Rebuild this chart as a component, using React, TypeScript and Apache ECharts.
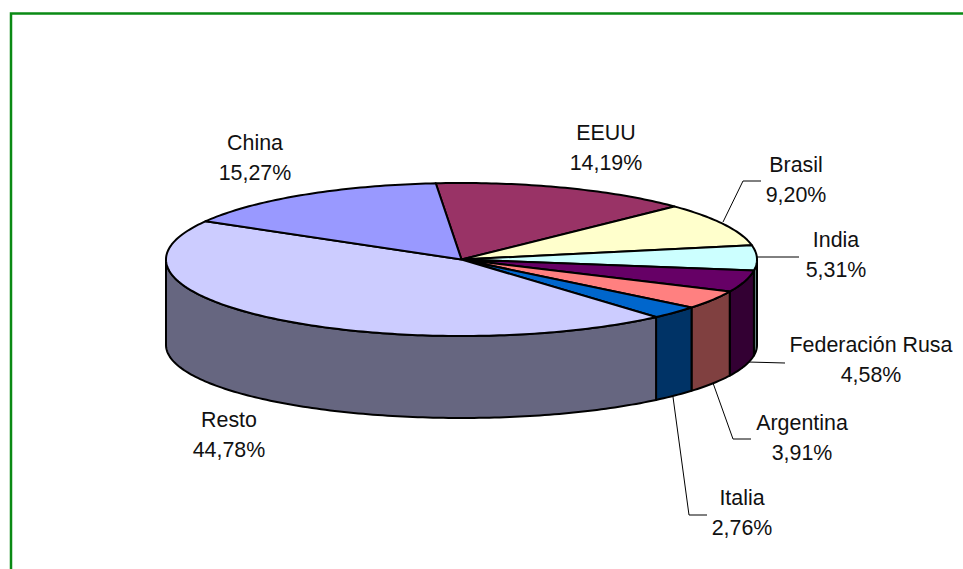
import React, { useEffect, useRef } from "react";
import * as echarts from "echarts";

const categories = ["EEUU", "Brasil", "India", "Federación Rusa", "Argentina", "Italia", "Resto", "China"];
const shares = [14.19, 9.2, 5.31, 4.58, 3.91, 2.76, 44.78, 15.27];

const topColors = ["#993366", "#FFFFCC", "#CCFFFF", "#660066", "#FF8080", "#0066CC", "#CCCCFF", "#9999FF"];
const sideColors = ["#4D1A33", "#808066", "#668080", "#330033", "#804040", "#003366", "#666680", "#4D4D80"];

const labelCenters = [
  [606, 148], [796, 180], [836, 255], [871, 360], [802, 438], [742, 513], [229, 435], [255, 158],
];
const leaders = [
  null,
  [[723, 222], [743, 181], [761, 181]],
  [[757, 257], [799, 257]],
  [[748, 362], [785, 363]],
  [[713, 383], [733, 439], [751, 439]],
  [[673, 397], [689, 515], [707, 515]],
  null,
  null,
];

const PIE = {
  cx: 461.5, cy: 259.5, rx: 295.5, ry: 76.5,
  bottomCy: 345, bottomRy: 73,
  startDeg: -5,
};
const GREEN = "#0A8A14";

const total = shares.reduce((a, b) => a + b, 0);
const sliceRange = (i: number) => {
  let before = 0;
  for (let k = 0; k < i; k++) before += shares[k];
  return [PIE.startDeg + (before / total) * 360, PIE.startDeg + ((before + shares[i]) / total) * 360];
};
const topPt = (d: number) => {
  const t = (d * Math.PI) / 180;
  return [PIE.cx + PIE.rx * Math.sin(t), PIE.cy - PIE.ry * Math.cos(t)];
};
const botPt = (d: number) => {
  const t = (d * Math.PI) / 180;
  return [PIE.cx + PIE.rx * Math.sin(t), PIE.bottomCy - PIE.bottomRy * Math.cos(t)];
};
const arc = (a: number, b: number, f: (d: number) => number[]) => {
  const n = Math.max(2, Math.ceil(Math.abs(b - a)));
  const pts: number[][] = [];
  for (let i = 0; i <= n; i++) pts.push(f(a + ((b - a) * i) / n));
  return pts;
};

const lineStyle = { stroke: "#000", lineWidth: 2, lineJoin: "round" };

const renderSide = (params: any) => {
  const [a, b] = sliceRange(params.dataIndex);
  const lo = Math.max(a, 90);
  const hi = Math.min(b, 270);
  if (hi <= lo) return { type: "group", children: [] };
  return {
    type: "polygon",
    shape: { points: [...arc(lo, hi, topPt), ...arc(hi, lo, botPt)] },
    style: { fill: sideColors[params.dataIndex], ...lineStyle },
  };
};

const renderTop = (params: any) => {
  const [a, b] = sliceRange(params.dataIndex);
  return {
    type: "polygon",
    shape: { points: [[PIE.cx, PIE.cy], ...arc(a, b, topPt)] },
    style: { fill: topColors[params.dataIndex], ...lineStyle },
  };
};

const fmt = (v: number) => `${v.toFixed(2).replace(".", ",")}%`;

export default function App() {
  const ref = useRef<HTMLDivElement>(null);
  useEffect(() => {
    document.body.style.margin = "0";
    const chart = echarts.init(ref.current!, null, { renderer: "svg" });
    const graphic: any[] = [
      {
        type: "polyline",
        silent: true,
        shape: { points: [[11, 569], [11, 13.5], [963, 13.5]] },
        style: { stroke: GREEN, lineWidth: 2.5, fill: "none" },
      },
    ];
    leaders.forEach((pts) => {
      if (pts)
        graphic.push({
          type: "polyline",
          silent: true,
          shape: { points: pts },
          style: { stroke: "#000", lineWidth: 1, fill: "none" },
        });
    });
    categories.forEach((c, i) => {
      graphic.push({
        type: "text",
        silent: true,
        x: labelCenters[i][0],
        y: labelCenters[i][1],
        style: {
          text: `${c}\n${fmt(shares[i])}`,
          fontFamily: "Liberation Sans",
          fontSize: 21.4,
          lineHeight: 30,
          fill: "#111",
          align: "center",
          verticalAlign: "middle",
        },
      });
    });
    chart.setOption({
      animation: false,
      backgroundColor: "#fff",
      graphic,
      series: [
        { type: "custom", coordinateSystem: "none", renderItem: renderSide, data: shares, silent: true, clip: false, z: 1 },
        { type: "custom", coordinateSystem: "none", renderItem: renderTop, data: shares, silent: true, clip: false, z: 2 },
      ],
    });
    return () => chart.dispose();
  }, []);
  return <div ref={ref} style={{ width: 963, height: 569 }} />;
}
